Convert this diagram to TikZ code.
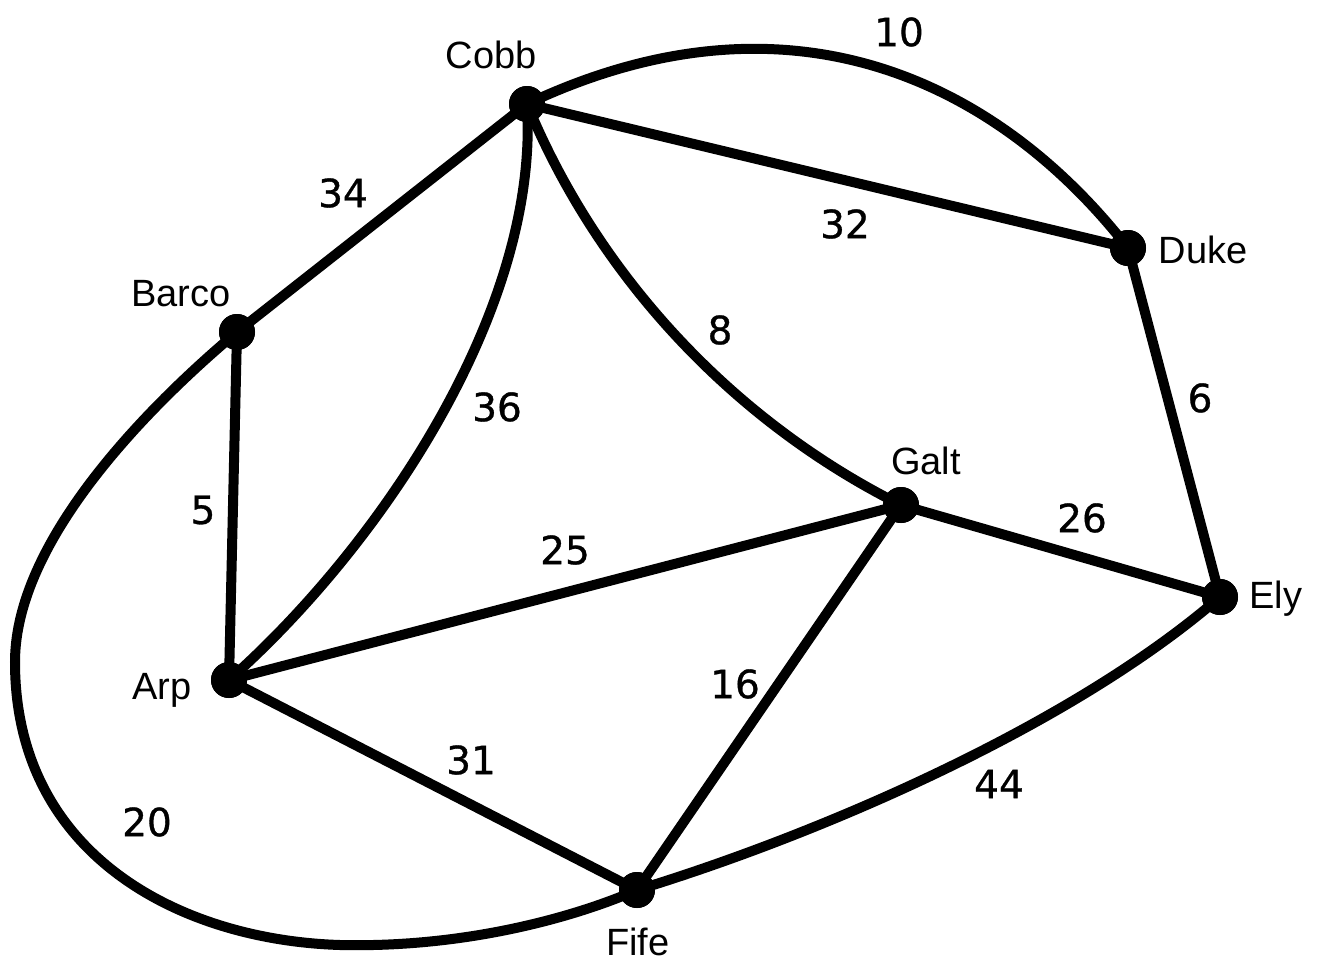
\documentclass[tikz,border=0pt]{standalone}
\usepackage{fontspec}
\setmainfont{Liberation Sans}
\newfontfamily\numfont[FakeBold=0.8]{DejaVu Sans}
\begin{document}
\begin{tikzpicture}[x=0.5pt,y=-0.5pt,
  vtx/.style={circle,fill=black,inner sep=0pt,minimum size=18pt},
  vname/.style={font=\fontsize{19}{21}\selectfont,inner sep=0pt},
  wt/.style={font=\numfont\fontsize{19.5}{21}\selectfont,inner sep=0pt},
  link/.style={line width=5pt,line cap=round}]
\useasboundingbox (0,0) rectangle (1318,964);
\node[vtx] (cobb) at (527,104) {};
\node[vtx] (duke) at (1128,248) {};
\node[vtx] (barco) at (237,332) {};
\node[vtx] (galt) at (901,505) {};
\node[vtx] (ely) at (1220,597) {};
\node[vtx] (arp) at (229,680) {};
\node[vtx] (fife) at (637,890) {};
\coordinate (l1) at (15,662);
\coordinate (l2) at (340,945);
% edges
\draw[link] (cobb.center) .. controls (798,-24) and (1005,90) .. (duke.center);
\draw[link] (cobb.center) -- (duke.center);
\draw[link] (cobb.center) -- (barco.center);
\draw[link] (cobb.center) .. controls (540,310) and (379,547) .. (arp.center);
\draw[link] (cobb.center) .. controls (597,274) and (731,420) .. (galt.center);
\draw[link] (barco.center) -- (arp.center);
\draw[link] (barco.center) .. controls (150,405) and (15,540) .. (l1)
  .. controls (15,855) and (180,940) .. (l2)
  .. controls (470,948) and (580,915) .. (fife.center);
\draw[link] (arp.center) -- (galt.center);
\draw[link] (arp.center) -- (fife.center);
\draw[link] (galt.center) -- (ely.center);
\draw[link] (galt.center) -- (fife.center);
\draw[link] (duke.center) -- (ely.center);
\draw[link] (fife.center) .. controls (817,835) and (1070,727) .. (ely.center);
% redraw dots on top
\foreach \n in {cobb,duke,barco,galt,ely,arp,fife}
  \fill (\n) circle (9pt);
% names
\node[vname] (tcobb) at (491,55) {Cobb};
\node[vname] (tduke) at (1203,250) {Duke};
\node[vname] (tbarco) at (181,294) {Barco};
\node[vname] (tgalt) at (926,461) {Galt};
\node[vname] (tely) at (1276,599) {Ely};
\node[vname] (tarp) at (162,690) {Arp};
\node[vname] (tfife) at (638,942) {Fife};
% weights
\node[wt] (w10) at (899,32) {10};
\node[wt] (w34) at (343,193) {34};
\node[wt] (w32) at (845,224) {32};
\node[wt] (w8) at (720,330) {8};
\node[wt] (w6) at (1200,398) {6};
\node[wt] (w36) at (497,407) {36};
\node[wt] (w5) at (203,510) {5};
\node[wt] (w25) at (565,550) {25};
\node[wt] (w26) at (1082,518) {26};
\node[wt] (w16) at (735,684) {16};
\node[wt] (w31) at (471,760) {31};
\node[wt] (w44) at (999,784) {44};
\node[wt] (w20) at (147,822) {20};
\end{tikzpicture}
\end{document}
